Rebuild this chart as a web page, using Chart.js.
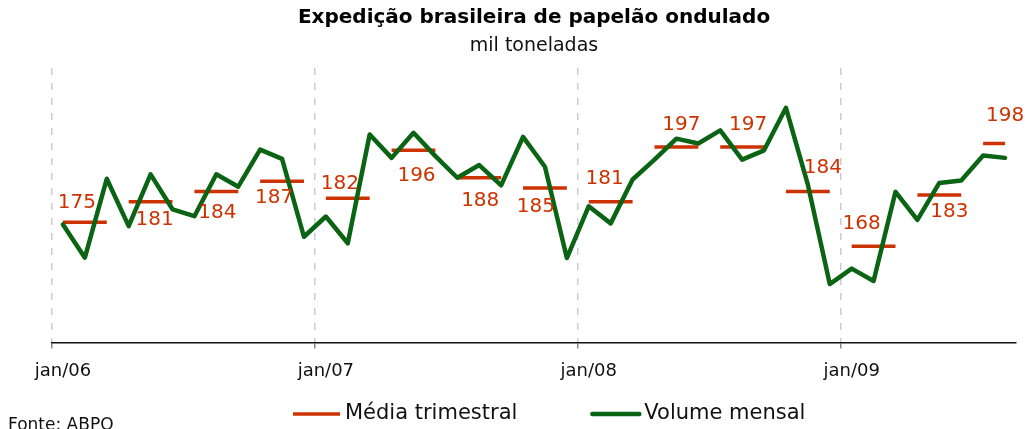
<!DOCTYPE html>
<html lang="pt-BR">
<head>
  <meta charset="UTF-8">
  <title>Expedição brasileira de papelão ondulado</title>
  <script src="https://cdn.jsdelivr.net/npm/chart.js"></script>
  <style>
    html, body { margin: 0; padding: 0; background: #fff; }
  </style>
</head>
<body>
  <canvas id="grafico" width="1025" height="429"></canvas>

  <script>
    // Meses (jan/06 a ago/09)
    const meses = [
      'jan/06', 'fev/06', 'mar/06', 'abr/06', 'mai/06', 'jun/06', 'jul/06', 'ago/06', 'set/06', 'out/06', 'nov/06', 'dez/06',
      'jan/07', 'fev/07', 'mar/07', 'abr/07', 'mai/07', 'jun/07', 'jul/07', 'ago/07', 'set/07', 'out/07', 'nov/07', 'dez/07',
      'jan/08', 'fev/08', 'mar/08', 'abr/08', 'mai/08', 'jun/08', 'jul/08', 'ago/08', 'set/08', 'out/08', 'nov/08', 'dez/08',
      'jan/09', 'fev/09', 'mar/09', 'abr/09', 'mai/09', 'jun/09', 'jul/09', 'ago/09'
    ];

    // Volume mensal (mil toneladas)
    const volumeMensal = [
      174.4, 164.7, 187.7, 173.9, 189.0, 178.8, 176.8, 189.0, 185.4, 196.2, 193.5, 170.8,
      176.7, 168.9, 200.6, 193.8, 201.1, 194.3, 188.0, 191.7, 185.8, 199.9, 191.2, 164.6,
      179.7, 174.7, 187.5, 193.3, 199.4, 198.0, 201.8, 193.3, 196.0, 208.4, 186.0, 157.0,
      161.5, 157.9, 183.9, 175.7, 186.5, 187.2, 194.5, 193.8
    ];

    // Média por trimestre
    const mediaTrimestral = [175, 181, 184, 187, 182, 196, 188, 185, 181, 197, 197, 184, 168, 183, 198];

    const VERMELHO = '#CC3300';
    const VERDE = '#0A6414';

    // deslocamento [dx, dy] de cada rótulo em relação ao traço da média
    const ajusteRotulo = [
      [-8, -20], [4, 18], [1, 21], [-8, 17],
      [-8, -15], [3, 25], [1, 23], [-9, 19],
      [-6, -23], [5, -22], [6, -22], [15, -24],
      [-12, -23], [10, 17], [11, -28]
    ];

    // cada mês recebe a média do seu trimestre
    const mediaPorMes = meses.map((m, i) => mediaTrimestral[Math.floor(i / 3)]);

    const rotulosMedia = {
      id: 'rotulosMedia',
      afterDatasetsDraw(chart) {
        const { ctx, scales: { x, y } } = chart;
        ctx.save();
        ctx.font = '20px "DejaVu Sans"';
        ctx.fillStyle = VERMELHO;
        ctx.textAlign = 'center';
        ctx.textBaseline = 'middle';
        mediaTrimestral.forEach((v, q) => {
          const i0 = q * 3;
          const i1 = Math.min(i0 + 2, meses.length - 1);
          const cx = (x.getPixelForValue(i0) + x.getPixelForValue(i1)) / 2;
          const [dx, dy] = ajusteRotulo[q];
          ctx.fillText(String(v), cx + dx, y.getPixelForValue(v) + dy);
        });
        ctx.restore();
      }
    };

    // legenda e fonte desenhadas à mão
    const legendaFonte = {
      id: 'legendaFonte',
      afterDraw(chart) {
        const { ctx } = chart;
        ctx.save();
        ctx.font = '21px "DejaVu Sans"';
        ctx.textBaseline = 'middle';
        let x0 = 293;
        const yLeg = 414;
        chart.data.datasets.forEach(ds => {
          ctx.beginPath();
          ctx.strokeStyle = ds.borderColor;
          ctx.lineWidth = ds.borderWidth;
          ctx.lineCap = ds.borderCapStyle || 'butt';
          ctx.moveTo(x0, yLeg);
          ctx.lineTo(x0 + 47, yLeg);
          ctx.stroke();
          ctx.fillStyle = '#111';
          ctx.fillText(ds.label, x0 + 52, yLeg);
          x0 += 52 + ctx.measureText(ds.label).width + 75;
        });
        ctx.font = '17px "DejaVu Sans"';
        ctx.textBaseline = 'alphabetic';
        ctx.fillStyle = '#111';
        ctx.fillText('Fonte: ABPO', 8, 429.5);
        ctx.restore();
      }
    };

    const ctx = document.getElementById('grafico').getContext('2d');
    new Chart(ctx, {
      type: 'line',
      data: {
        labels: meses,
        datasets: [
          {
            label: 'Média trimestral',
            data: mediaPorMes,
            borderColor: VERMELHO,
            borderWidth: 3.5,
            borderCapStyle: 'butt',
            pointRadius: 0,
            tension: 0,
            order: 2,
            segment: {
              borderColor: c => (c.p0DataIndex % 3 === 2 ? 'transparent' : VERMELHO)
            }
          },
          {
            label: 'Volume mensal',
            data: volumeMensal,
            borderColor: VERDE,
            borderWidth: 4.5,
            borderCapStyle: 'round',
            borderJoinStyle: 'round',
            pointRadius: 0,
            tension: 0,
            order: 1
          }
        ]
      },
      options: {
        responsive: false,
        animation: false,
        layout: { padding: { left: 52, right: 9, top: 0, bottom: 35 } },
        plugins: {
          legend: { display: false },
          tooltip: { enabled: false },
          title: {
            display: true,
            text: 'Expedição brasileira de papelão ondulado',
            color: '#000',
            font: { family: 'DejaVu Sans', size: 20, weight: 'bold' },
            padding: { top: 5.5, bottom: 2.5 }
          },
          subtitle: {
            display: true,
            text: 'mil toneladas',
            color: '#111',
            font: { family: 'DejaVu Sans', size: 19 },
            padding: { top: 2.6, bottom: 10.6 }
          }
        },
        scales: {
          x: {
            offset: true,
            grid: {
              offset: true,
              color: c => (c.index % 12 === 0 ? '#cccccc' : 'transparent'),
              lineWidth: 1.5,
              tickLength: 6,
              tickColor: c => (c.index % 12 === 0 ? '#888888' : 'transparent'),
              tickWidth: 1.5,
              tickBorderDash: []
            },
            border: { display: true, color: '#111', width: 1.5, dash: [7, 8] },
            ticks: {
              autoSkip: false,
              maxRotation: 0,
              padding: 12,
              color: '#111',
              font: { family: 'DejaVu Sans', size: 18 },
              callback: function (val, i) {
                return i % 12 === 0 ? meses[i] : '';
              }
            }
          },
          y: {
            display: false,
            min: 140,
            max: 220
          }
        }
      },
      plugins: [rotulosMedia, legendaFonte]
    });
  </script>
</body>
</html>
